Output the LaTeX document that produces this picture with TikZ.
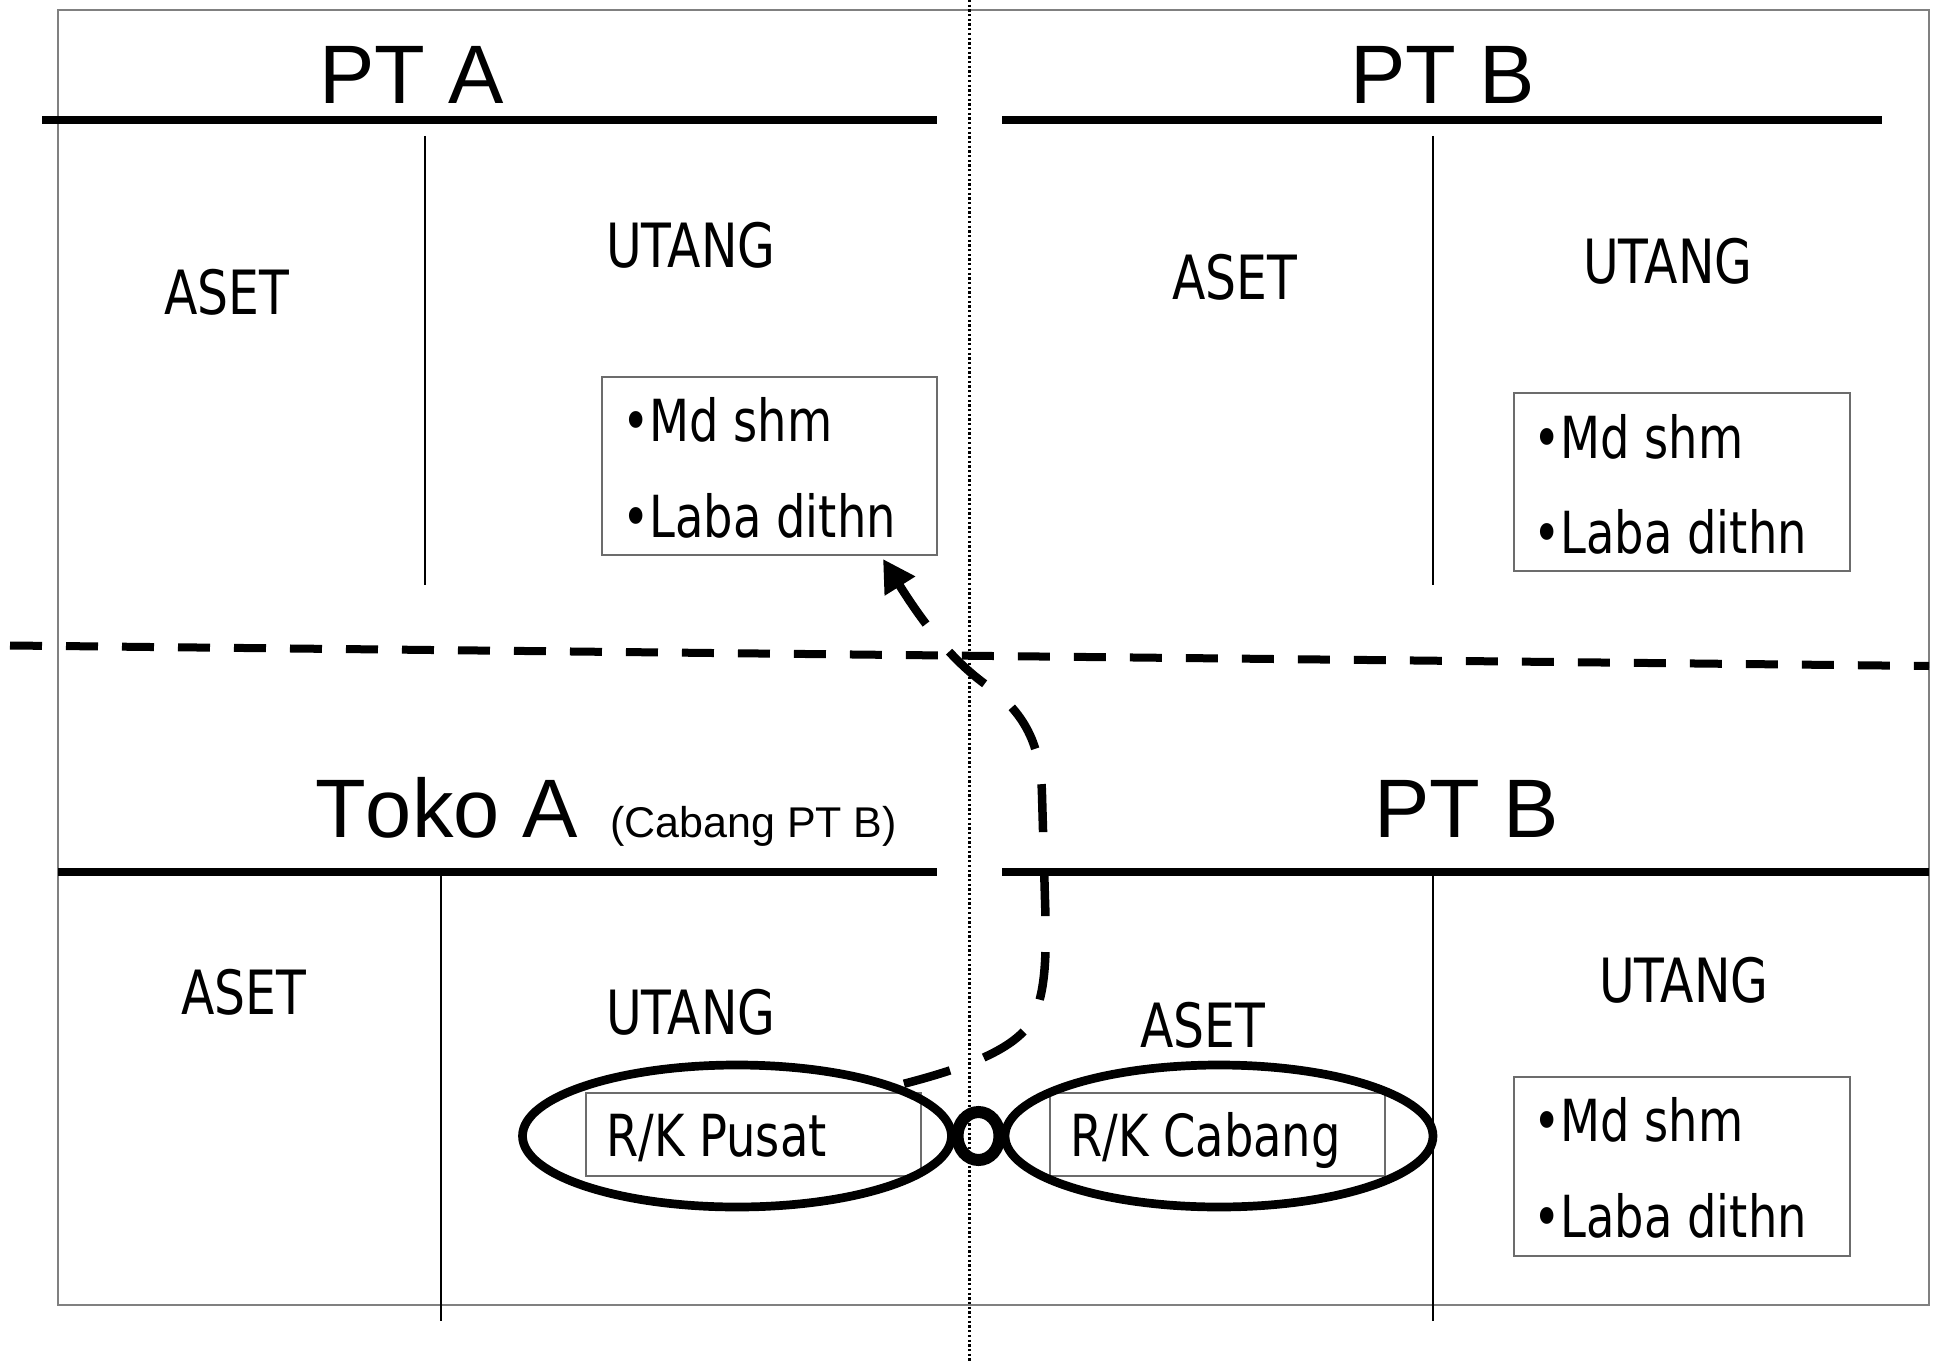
\documentclass[tikz,border=0pt]{standalone}
\usepackage{fontspec}
\setmainfont{Liberation Sans}
\newfontfamily\headf[Kerning=Off]{Liberation Sans}
\newfontfamily\bodyf[FakeStretch=0.8]{DejaVu Sans}
\usetikzlibrary{arrows.meta,shapes.geometric}
\begin{document}
\begin{tikzpicture}[x=1pt,y=-1pt,
  lbl/.style={anchor=base west,inner sep=0pt,font=\bodyf\fontsize{61}{70}\selectfont},
  bul/.style={anchor=base west,inner sep=0pt,font=\bodyf\fontsize{58}{66}\selectfont},
  head/.style={anchor=base west,inner sep=0pt,font=\headf\fontsize{83}{90}\selectfont},
  subhead/.style={anchor=base west,inner sep=0pt,font=\headf\fontsize{43}{50}\selectfont},
  thickrule/.style={line width=7.5pt},
  tline/.style={line width=1.5pt},
  frameline/.style={line width=1.8pt, draw=gray},
  itembox/.style={draw=gray!85!black, line width=1.5pt, inner sep=0pt},
  ringline/.style={draw, ellipse, line width=8.7pt, inner sep=0pt},
  knot/.style={draw, ellipse, line width=12pt, inner sep=0pt, minimum width=42pt, minimum height=48pt},
  curve/.style={line width=8.5pt, dash pattern=on 48pt off 36pt},
  split/.style={line width=8pt, dash pattern=on 32pt off 24pt},
  axis/.style={line width=2.3pt, dash pattern=on 2.3pt off 2.4pt},
]
\useasboundingbox (0,0) rectangle (1939,1362);
\fill[white] (0,0) rectangle (1939,1362);

% frame
\draw[frameline] (58,10) rectangle (1929,1305);

% dotted centre axis and dashed separator
\coordinate (axT) at (969.5,0);
\coordinate (axB) at (969.5,1362);
\draw[axis] (axT) -- (axB);
\coordinate (spL) at (10,645.5);
\coordinate (spR) at (1929,666);
\draw[split] (spL) -- (spR);

% ---------- top left: PT A ----------
\node[head] (ptA) at (319,104) {PT A};
\coordinate (rA1) at (42,120); \coordinate (rA2) at (937,120);
\draw[thickrule] (rA1) -- (rA2);
\coordinate (vA1) at (425,136); \coordinate (vA2) at (425,585);
\draw[tline] (vA1) -- (vA2);
\node[lbl] (asetA) at (164,314) {ASET};
\node[lbl] (utangA) at (606,267) {UTANG};
\node[itembox, minimum width=335pt, minimum height=178pt] (boxA) at (769.5,466) {};
\node[bul] (mdA) at (622,441) {•Md shm};
\node[bul] (lbA) at (622,537) {•Laba dithn};

% ---------- top right: PT B ----------
\node[head] (ptB) at (1350,104) {PT B};
\coordinate (rB1) at (1002,120); \coordinate (rB2) at (1882,120);
\draw[thickrule] (rB1) -- (rB2);
\coordinate (vB1) at (1433,136); \coordinate (vB2) at (1433,585);
\draw[tline] (vB1) -- (vB2);
\node[lbl] (asetB) at (1172,299) {ASET};
\node[lbl] (utangB) at (1583,283) {UTANG};
\node[itembox, minimum width=336pt, minimum height=178pt] (boxB) at (1682,482) {};
\node[bul] (mdB) at (1533,458) {•Md shm};
\node[bul] (lbB) at (1533,553) {•Laba dithn};

% ---------- bottom left: Toko A ----------
\node[head] (toko) at (315,837) {Toko A};
\node[subhead] (cab) at (610,837) {(Cabang PT B)};
\coordinate (rC1) at (58,872); \coordinate (rC2) at (937,872);
\draw[thickrule] (rC1) -- (rC2);
\coordinate (vC1) at (441,875); \coordinate (vC2) at (441,1321);
\draw[tline] (vC1) -- (vC2);
\node[lbl] (asetC) at (181,1014) {ASET};
\node[lbl] (utangC) at (606,1034) {UTANG};
\node[itembox, minimum width=335pt, minimum height=83pt] (boxP) at (753.5,1134.5) {};
\node[bul] (rkp) at (606,1156) {R/K Pusat};

% ---------- bottom right: PT B ----------
\node[head] (ptB2) at (1374,837) {PT B};
\coordinate (rD1) at (1002,872); \coordinate (rD2) at (1929,872);
\draw[thickrule] (rD1) -- (rD2);
\coordinate (vD1) at (1433,875); \coordinate (vD2) at (1433,1321);
\draw[tline] (vD1) -- (vD2);
\node[lbl] (asetD) at (1140,1047) {ASET};
\node[lbl] (utangD) at (1599,1002) {UTANG};
\node[itembox, minimum width=335pt, minimum height=83pt] (boxC) at (1217.5,1134.5) {};
\node[bul] (rkc) at (1070,1156) {R/K Cabang};
\node[itembox, minimum width=336pt, minimum height=179pt] (boxD) at (1682,1166.5) {};
\node[bul] (mdD) at (1533,1141) {•Md shm};
\node[bul] (lbD) at (1533,1237) {•Laba dithn};

% ---------- linked ellipses ----------
\node[ringline, minimum width=429pt, minimum height=142pt] (ellL) at (737,1136) {};
\node[ringline, minimum width=428pt, minimum height=142pt] (ellR) at (1219,1136) {};
\node[knot] (link) at (978.5,1136) {};

% ---------- dashed arrow (drawn from its tip so the dashes match) ----------
\coordinate (cs) at (903,1084);
\coordinate (ce) at (883,559);
\draw[curve, {Triangle[length=32pt,width=34pt]}-] (ce)
  .. controls (915,610) and (945,655) .. (985,684)
  .. controls (1025,712) and (1041,745) .. (1042,795)
  -- (1045,900)
  .. controls (1047,960) and (1046,1005) .. (1025,1030)
  .. controls (1005,1052) and (965,1068) .. (cs);
\end{tikzpicture}
\end{document}
